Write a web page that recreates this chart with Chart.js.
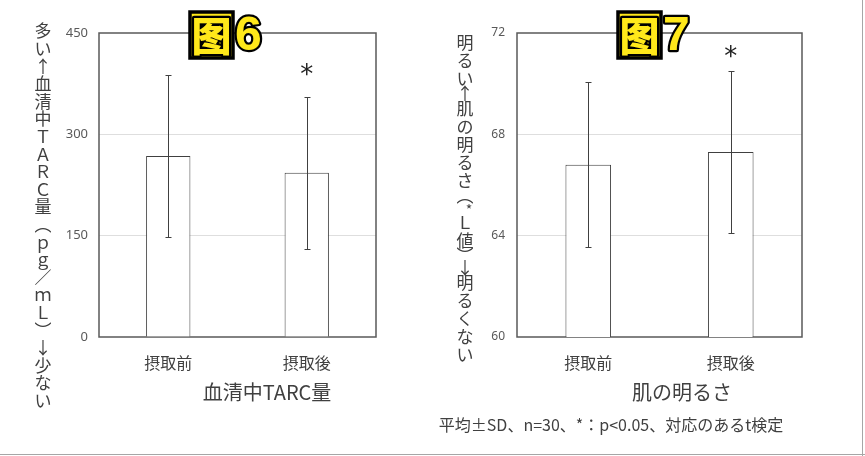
<!DOCTYPE html>
<html>
<head>
<meta charset="utf-8">
<script src="https://cdn.jsdelivr.net/npm/chart.js@4.4.1/dist/chart.umd.min.js"></script>
<style>
  html, body { margin: 0; padding: 0; background: #fff; }
  #wrap { position: relative; width: 865px; height: 456px; overflow: hidden; }
  canvas { position: absolute; top: 0; }
  #c1 { left: 0; }
  #c2 { left: 432px; }
  .edge { position: absolute; background: #a6a6a6; }
</style>
</head>
<body>
<div id="wrap">
  <canvas id="c1" width="432" height="456"></canvas>
  <canvas id="c2" width="433" height="456"></canvas>
  <div class="edge" style="left:862px;top:0;width:1px;height:456px"></div>
  <div class="edge" style="left:0;top:454px;width:865px;height:1px"></div>
</div>
<script>
// データ
const categories = ['摂取前', '摂取後'];
const significant = [false, true];

// 図6 血清中TARC量
const tarcMean = [268, 243];
const tarcSd = [120, 113];
const tarcTicks = [0, 150, 300, 450];

// 図7 肌の明るさ
const lMean = [66.8, 67.3];
const lSd = [3.25, 3.2];
const lTicks = [60, 64, 68, 72];

const JP = '"Noto Sans CJK JP", "Noto Sans", sans-serif';

// 縦書きラベル
function drawVertical(ctx, text, x, y, size, fullStep, narrowStep) {
  ctx.save();
  ctx.font = size + 'px ' + JP;
  ctx.fillStyle = '#404040';
  ctx.textAlign = 'center';
  ctx.textBaseline = 'middle';
  const narrow = '︵︶*↑↓';
  let prev = 0;
  for (const ch of text) {
    const step = narrow.includes(ch) ? narrowStep : fullStep;
    y += (prev + step) / 2;
    if (ch === '*') {
      ctx.font = Math.round(size * 0.8) + 'px ' + JP;
      ctx.fillText(ch, x + 4, y + 2);
      ctx.font = size + 'px ' + JP;
    } else {
      ctx.fillText(ch, x, y);
    }
    prev = step;
  }
  ctx.restore();
}

const decorPlugin = {
  id: 'decor',
  beforeDatasetsDraw(chart) {
    const { ctx, chartArea: a } = chart;
    ctx.save();
    ctx.strokeStyle = '#595959';
    ctx.lineWidth = 1.5;
    ctx.strokeRect(a.left, a.top, a.right - a.left, a.bottom - a.top);
    ctx.restore();
  },
  afterDatasetsDraw(chart, args, o) {
    const { ctx } = chart;
    const y = chart.scales.y;
    const meta = chart.getDatasetMeta(0);
    ctx.save();
    ctx.strokeStyle = '#404040';
    ctx.lineWidth = 1;
    meta.data.forEach((bar, i) => {
      const m = o.means[i], s = o.sds[i];
      const top = Math.round(y.getPixelForValue(m + s)) + 0.5;
      const bot = Math.round(y.getPixelForValue(m - s)) + 0.5;
      const x = Math.round(bar.x) + 0.5;
      ctx.beginPath();
      ctx.moveTo(x, top); ctx.lineTo(x, bot);
      ctx.moveTo(x - 3, top); ctx.lineTo(x + 3, top);
      ctx.moveTo(x - 3, bot); ctx.lineTo(x + 3, bot);
      ctx.stroke();
      if (significant[i]) {
        ctx.font = '26px "DejaVu Sans", sans-serif';
        ctx.fillStyle = '#222';
        ctx.textAlign = 'center';
        ctx.textBaseline = 'middle';
        ctx.fillText('*', bar.x, top - o.starGap + 5);
      }
    });
    ctx.restore();
  },
  afterDraw(chart, args, o) {
    const { ctx } = chart;
    ctx.save();
    // 縦軸タイトル
    drawVertical(ctx, o.yTitle, o.yTitleX, o.yTitleY, 17, o.fullStep, o.narrowStep);
    // 横軸タイトル
    ctx.font = '20px ' + JP;
    ctx.fillStyle = '#404040';
    ctx.textAlign = 'center';
    ctx.textBaseline = 'middle';
    ctx.fillText(o.xTitle, o.xTitleX, 392);
    if (o.note) {
      ctx.font = '16px ' + JP;
      ctx.fillText(o.note, o.noteX, 425);
    }
    // 図番号バッジ
    const bx = o.badgeX;
    ctx.fillStyle = '#ffe81a';
    ctx.fillRect(bx, 12, 43, 46);
    ctx.strokeStyle = '#000';
    ctx.lineWidth = 3.5;
    ctx.strokeRect(bx, 12, 43, 46);
    ctx.lineJoin = 'round';
    ctx.font = '900 40px "Noto Sans CJK SC", sans-serif';
    ctx.lineWidth = 4.5;
    ctx.strokeText('图', bx + 21.5, 36);
    ctx.fillStyle = '#ffe81a';
    ctx.fillText('图', bx + 21.5, 36);
    ctx.font = 'bold 48px "Liberation Sans", sans-serif';
    ctx.textAlign = 'left';
    ctx.textBaseline = 'alphabetic';
    ctx.lineWidth = 4.5;
    ctx.strokeText(o.num, bx + 45, 50);
    ctx.fillText(o.num, bx + 45, 50);
    ctx.restore();
  }
};

function makeChart(id, c) {
  return new Chart(document.getElementById(id), {
    type: 'bar',
    data: {
      labels: categories,
      datasets: [{
        data: c.means,
        backgroundColor: '#ffffff',
        borderColor: '#404040',
        borderWidth: 1,
        barPercentage: 0.32,
        categoryPercentage: 1
      }]
    },
    options: {
      responsive: false,
      animation: false,
      layout: { padding: { top: 33, left: 0, right: c.padRight, bottom: 59 } },
      plugins: {
        legend: { display: false },
        tooltip: { enabled: false },
        decor: c.decor
      },
      scales: {
        x: {
          grid: { display: false },
          border: { display: false },
          ticks: { color: '#404040', font: { size: 16, family: JP }, padding: 8 },
          afterFit(s) { s.height = 60; }
        },
        y: {
          min: c.ticks[0],
          max: c.ticks[c.ticks.length - 1],
          afterBuildTicks(s) { s.ticks = c.ticks.map(v => ({ value: v })); },
          afterFit(s) { s.width = c.axisWidth; },
          border: { display: false },
          grid: {
            drawTicks: false,
            color: t => (t.tick.value === c.ticks[0] || t.tick.value === c.ticks[c.ticks.length - 1]) ? 'rgba(0,0,0,0)' : '#dedede'
          },
          ticks: { color: '#595959', font: { size: c.tickSize, family: '"Noto Sans", sans-serif' }, padding: c.tickPad }
        }
      }
    },
    plugins: [decorPlugin]
  });
}

makeChart('c1', {
  means: tarcMean,
  ticks: tarcTicks,
  padRight: 56,
  axisWidth: 99,
  tickSize: 13,
  tickPad: 11,
  decor: {
    means: tarcMean, sds: tarcSd, starGap: 26,
    yTitle: '多い↑血清中ＴＡＲＣ量︵ｐｇ／ｍＬ︶↓少ない', yTitleX: 43, yTitleY: 22.2, fullStep: 17.6, narrowStep: 17.6,
    xTitle: '血清中TARC量', xTitleX: 267,
    badgeX: 190, num: '6'
  }
});

makeChart('c2', {
  means: lMean,
  ticks: lTicks,
  padRight: 63,
  axisWidth: 85,
  tickSize: 12,
  tickPad: 12,
  decor: {
    means: lMean, sds: lSd, starGap: 18,
    yTitle: '明るい↑肌の明るさ︵*Ｌ値︶↓明るくない', yTitleX: 33, yTitleY: 34, fullStep: 18, narrowStep: 12,
    xTitle: '肌の明るさ', xTitleX: 250,
    note: '平均±SD、n=30、*：p<0.05、対応のあるt検定', noteX: 179,
    badgeX: 186, num: '7'
  }
});
</script>
</body>
</html>
